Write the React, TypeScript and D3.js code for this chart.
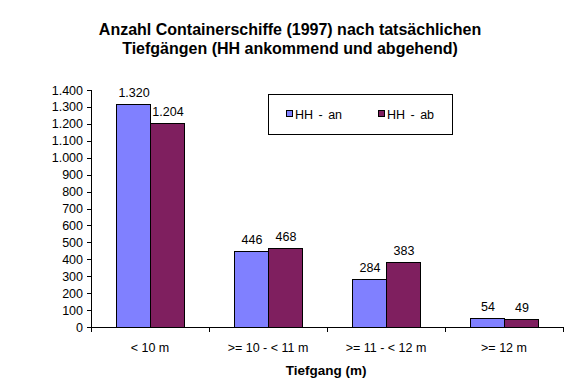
import React from "react";
import * as d3 from "d3";

const categories = ["< 10 m", ">= 10 - < 11 m", ">= 11 - < 12 m", ">= 12 m"];
const seriesNames = ["HH - an", "HH - ab"];
const anValues = [1320, 446, 284, 54];
const abValues = [1204, 468, 383, 49];
const yTicks = [0, 100, 200, 300, 400, 500, 600, 700, 800, 900, 1000, 1100, 1200, 1300, 1400];
const colors = ["#8080FF", "#7F1F5F"];

const locale = d3.formatLocale({ decimal: ",", thousands: ".", grouping: [3], currency: ["", "€"] });
const fmt = locale.format(",d");

export default function App() {
  const W = 580, H = 390;
  const x0 = 91, x1 = 563, yTop = 90, yBot = 327;
  const x = d3.scaleBand<string>().domain(categories).range([x0, x1]).paddingInner(0).paddingOuter(0);
  const y = d3.scaleLinear().domain([0, 1400]).range([yBot, yTop]);
  const inner = d3.scaleBand<number>().domain([0, 1]).range([0, x.bandwidth()]).paddingOuter(0.74).paddingInner(0);
  const series = [anValues, abValues];
  const font = "'Liberation Sans', Arial, sans-serif";
  const fs = 12.5;
  return (
    <svg width={W} height={H} style={{ position: "absolute", left: 0, top: 0, background: "#fff" }} fontFamily={font}>
      <rect x={0} y={0} width={W} height={H} fill="#fff" />
      <text x={290} y={35} textAnchor="middle" fontSize={16} fontWeight="bold">Anzahl Containerschiffe (1997) nach tatsächlichen</text>
      <text x={290} y={54} textAnchor="middle" fontSize={16} fontWeight="bold">Tiefgängen (HH ankommend und abgehend)</text>
      {/* y axis */}
      <line x1={x0 + 0.5} x2={x0 + 0.5} y1={yTop} y2={yBot} stroke="#000" />
      {yTicks.map((t) => (
        <g key={t}>
          <line x1={x0 - 4} x2={x0} y1={Math.round(y(t)) + 0.5} y2={Math.round(y(t)) + 0.5} stroke="#000" />
          <text x={x0 - 8} y={y(t) + 4.5} textAnchor="end" fontSize={fs}>{fmt(t)}</text>
        </g>
      ))}
      {/* bars */}
      {categories.map((c, i) => (
        <g key={c}>
          {series.map((s, j) => {
            const bx = (x(c) as number) + (inner(j) as number);
            return (
              <g key={j}>
                <rect x={Math.round(bx) + 0.5} y={Math.round(y(s[i])) + 0.5} width={Math.round(inner.bandwidth())} height={yBot - Math.round(y(s[i]))} fill={colors[j]} stroke="#000" strokeWidth={1} />
                <text x={bx + inner.bandwidth() / 2 + 1} y={y(s[i]) - 7} textAnchor="middle" fontSize={fs}>{fmt(s[i])}</text>
              </g>
            );
          })}
        </g>
      ))}
      {/* x axis */}
      <line x1={x0} x2={x1} y1={yBot + 0.5} y2={yBot + 0.5} stroke="#000" />
      {[...categories.map((c) => x(c) as number), x1].map((v, i) => (
        <line key={i} x1={Math.round(v) + 0.5} x2={Math.round(v) + 0.5} y1={yBot} y2={yBot + 5} stroke="#000" />
      ))}
      {categories.map((c) => (
        <text key={c} x={(x(c) as number) + x.bandwidth() / 2} y={352} textAnchor="middle" fontSize={fs}>{c}</text>
      ))}
      <text x={326} y={375} textAnchor="middle" fontSize={13.5} fontWeight="bold">Tiefgang (m)</text>
      {/* legend */}
      <rect x={268.5} y={94.5} width={184} height={40} fill="#fff" stroke="#000" />
      {seriesNames.map((n, j) => (
        <g key={n}>
          <rect x={[286.5, 378.5][j]} y={110.5} width={6} height={6} fill={colors[j]} stroke="#000" />
          <text x={[295, 387][j]} y={119} fontSize={fs} wordSpacing={2}>{n}</text>
        </g>
      ))}
    </svg>
  );
}
